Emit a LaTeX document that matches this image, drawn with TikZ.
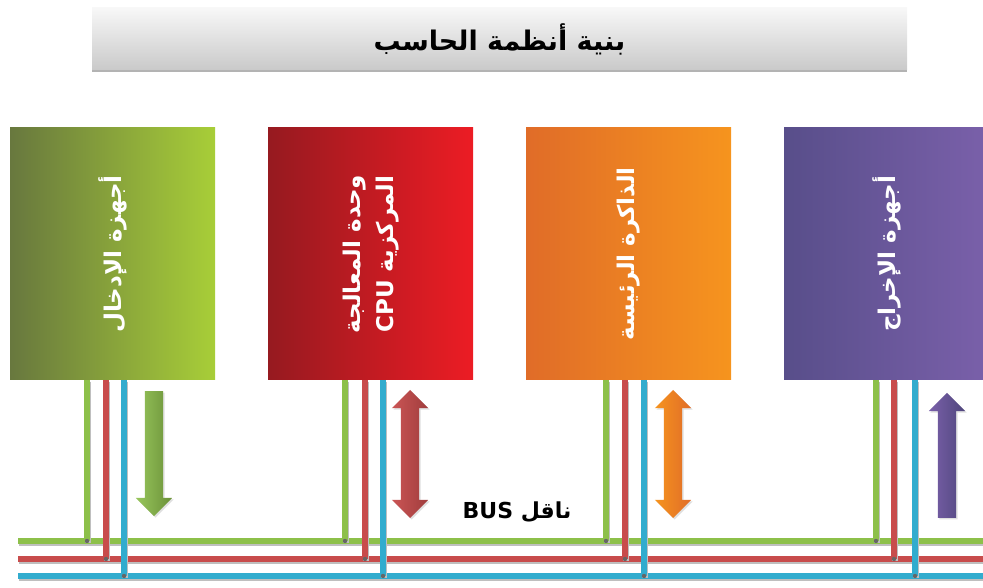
\documentclass[tikz,border=0pt]{standalone}
\usepackage{fontspec}
\setmainfont{DejaVu Sans}
\newfontfamily\arabicfont[Script=Arabic]{DejaVu Sans}
\usetikzlibrary{shapes.arrows,shadows}
\TeXXeTstate=1

\definecolor{inl}{RGB}{104,120,62}
\definecolor{inr}{RGB}{168,206,56}
\definecolor{cpul}{RGB}{150,26,32}
\definecolor{cpur}{RGB}{236,28,36}
\definecolor{meml}{RGB}{224,108,40}
\definecolor{memr}{RGB}{246,148,30}
\definecolor{outl}{RGB}{88,78,138}
\definecolor{outr}{RGB}{122,96,170}
\definecolor{busg}{RGB}{141,192,74}
\definecolor{busr}{RGB}{200,76,76}
\definecolor{busb}{RGB}{50,172,206}

\begin{document}
\begin{tikzpicture}[x=1pt,y=1pt,
   titlebar/.style={minimum width=815pt, minimum height=62pt, inner sep=0pt, top color=gray!6, bottom color=gray!42, drop shadow={shadow xshift=0pt, shadow yshift=-2.5pt, opacity=.6}, font=\arabicfont\bfseries\fontsize{27}{30}\selectfont},
   unit/.style={minimum width=205pt, minimum height=252pt, inner sep=0pt, text=white, font=\arabicfont\bfseries\fontsize{23}{33}\selectfont},
   wire/.style={line width=6pt, preaction={draw=black!25, line width=6pt, transform canvas={xshift=1pt,yshift=-1.5pt}}},
   flow/.style={inner sep=9pt, minimum height=128pt, drop shadow={opacity=.25, shadow xshift=1.5pt, shadow yshift=-1.5pt}},
   arrowdown/.style={flow, single arrow, minimum height=125pt, single arrow head extend=9pt, shape border rotate=270},
   arrowup/.style={flow, single arrow, minimum height=125pt, single arrow head extend=9pt, shape border rotate=90},
   arrowboth/.style={flow, double arrow, double arrow head extend=9pt, shape border rotate=90}]
   \useasboundingbox (0,0) rectangle (983,587);
   \clip (0,0) rectangle (983,587);

   % title
   \node[titlebar](title) at (499.5,548) {\beginR بنية أنظمة الحاسب\endR};

   % units
   \node[unit, left color=inl, right color=inr](in) at (112.5,333) {\rotatebox{90}{\beginR أجهزة الإدخال\endR}};
   \node[unit, left color=cpul, right color=cpur](cpu) at (370.5,333) {\rotatebox{90}{\begin{tabular}{@{}c@{}}\beginR وحدة المعالجة\endR\\ \beginR المركزية \beginL CPU\endL\endR\end{tabular}}};
   \node[unit, left color=meml, right color=memr](mem) at (628.5,333) {\rotatebox{90}{\beginR الذاكرة الرئيسة\endR}};
   \node[unit, left color=outl, right color=outr](out) at (886.5,333) {\rotatebox{90}{\beginR أجهزة الإخراج\endR}};

   % bus
   \coordinate (gl) at (18,46);  \coordinate (gr) at (990,46);
   \coordinate (rl) at (18,28);  \coordinate (rr) at (990,28);
   \coordinate (bl) at (18,11);  \coordinate (br) at (990,11);
   \draw[wire, busg](gl) to (gr);
   \draw[wire, busr](rl) to (rr);
   \draw[wire, busb](bl) to (br);

   \coordinate (gin) at (87,46);   \coordinate (rin) at (106,28);  \coordinate (bin) at (124,11);
   \coordinate (gcpu) at (345,46); \coordinate (rcpu) at (365,28); \coordinate (bcpu) at (383,11);
   \coordinate (gmem) at (606,46); \coordinate (rmem) at (625,28); \coordinate (bmem) at (644,11);
   \coordinate (gout) at (876,46); \coordinate (rout) at (894,28); \coordinate (bout) at (915,11);

   \draw[wire, busg](in.south -| gin) to (gin);
   \draw[wire, busr](in.south -| rin) to (rin);
   \draw[wire, busb](in.south -| bin) to (bin);
   \draw[wire, busg](cpu.south -| gcpu) to (gcpu);
   \draw[wire, busr](cpu.south -| rcpu) to (rcpu);
   \draw[wire, busb](cpu.south -| bcpu) to (bcpu);
   \draw[wire, busg](mem.south -| gmem) to (gmem);
   \draw[wire, busr](mem.south -| rmem) to (rmem);
   \draw[wire, busb](mem.south -| bmem) to (bmem);
   \draw[wire, busg](out.south -| gout) to (gout);
   \draw[wire, busr](out.south -| rout) to (rout);
   \draw[wire, busb](out.south -| bout) to (bout);

   \fill[black!60] (gin) circle (2.2);  \fill[black!60] (rin) circle (2.2);  \fill[black!60] (bin) circle (2.2);
   \fill[black!60] (gcpu) circle (2.2); \fill[black!60] (rcpu) circle (2.2); \fill[black!60] (bcpu) circle (2.2);
   \fill[black!60] (gmem) circle (2.2); \fill[black!60] (rmem) circle (2.2); \fill[black!60] (bmem) circle (2.2);
   \fill[black!60] (gout) circle (2.2); \fill[black!60] (rout) circle (2.2); \fill[black!60] (bout) circle (2.2);

   % data flow
   \node[arrowdown, left color=busg!90!white, right color=busg!75!black](inflow) at (154,138) {};
   \node[arrowboth, left color=busr!95!white, right color=busr!80!black](cpuflow) at (410,133) {};
   \node[arrowboth, left color=memr, right color=meml](memflow) at (673,133) {};
   \node[arrowup, left color=outr, right color=outl!90!black](outflow) at (947,127) {};

   \node[font=\arabicfont\bfseries\fontsize{22}{26}\selectfont](buslabel) at (517,75) {\beginR ناقل \beginL BUS\endL\endR};
\end{tikzpicture}
\end{document}
